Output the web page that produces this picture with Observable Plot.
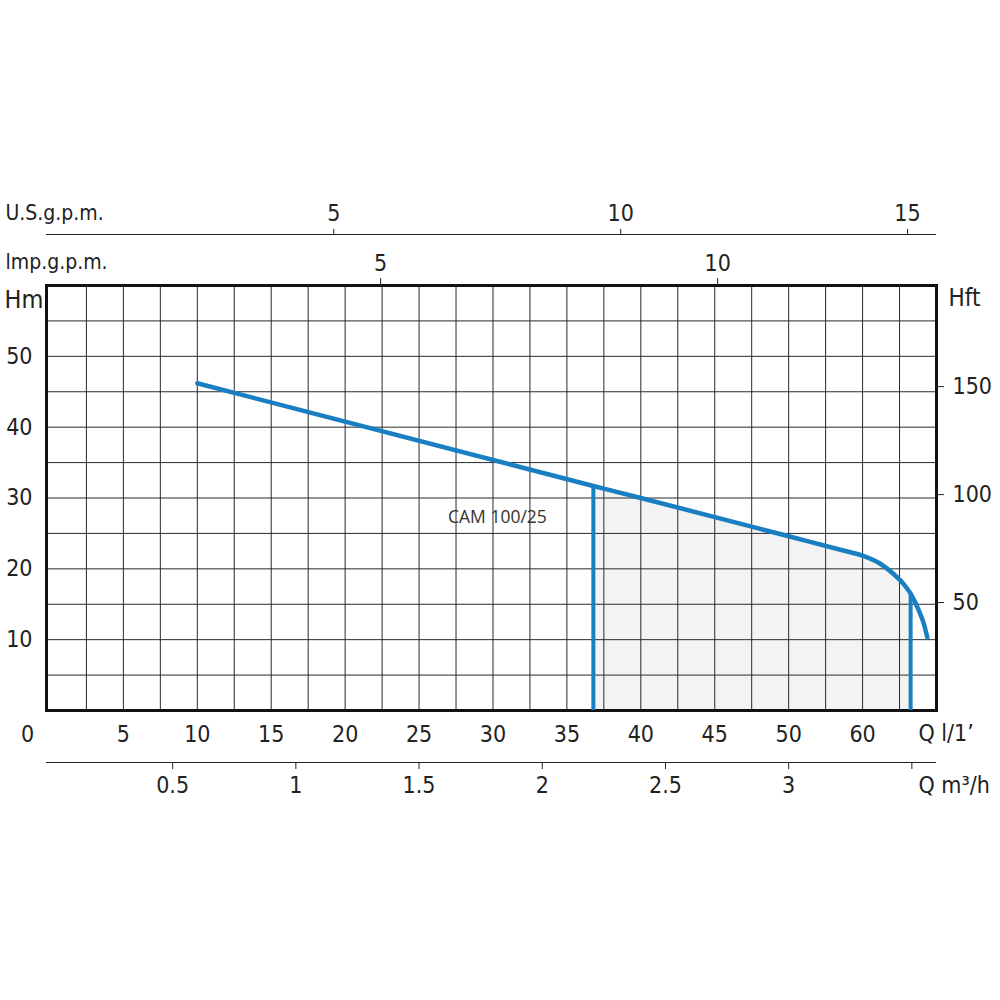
<!DOCTYPE html>
<html>
<head>
<meta charset="utf-8">
<script src="https://cdn.jsdelivr.net/npm/d3@7"></script>
<script src="https://cdn.jsdelivr.net/npm/@observablehq/plot@0.6"></script>
<style>
  body { margin: 0; background: #fff; }
  #chart { width: 1000px; height: 1000px; }
</style>
</head>
<body>
<div id="chart"></div>
<script>
// ---- Data ----
const curveName = "CAM 100/25";
// Pump curve: flow in l/min, head in m
const flowLmin = [10, 36.79, 40, 50, 53.5, 55, 56.22, 57.1, 57.78, 58.25, 58.81, 59.15, 59.38];
const headM    = [46.2, 31.7, 30.0, 24.6, 22.7, 21.85, 20.68, 19.27, 17.85, 16.5, 14.1, 12.2, 10.3];
// Working range limits (l/min) and head at those limits (m)
const dutyFlow = [36.79, 58.25];
const dutyHead = [31.7, 16.5];
// Label anchor (l/min, m)
const labelFlow = [30.3];
const labelHead = [27.2];

// Axis ticks
const lminTicks  = [5, 10, 15, 20, 25, 30, 35, 40, 45, 50, 55];
const lminLabels = ["5", "10", "15", "20", "25", "30", "35", "40", "45", "50", "60"];
const hmTicks    = [10, 20, 30, 40, 50];
const hftTicks   = [50, 100, 150];
const m3hTicks   = [0.5, 1, 1.5, 2, 2.5, 3, 3.5];
const m3hLabels  = ["0.5", "1", "1.5", "2", "2.5", "3", ""];
const usgpmLabels   = ["5", "10", "15"];
const usgpmAtLmin   = [19.23, 38.64, 58.04];
const impgpmLabels  = ["5", "10"];
const impgpmAtLmin  = [22.4, 45.2];
const gridFlow = d3.range(2.5, 60, 2.5);
const gridHead = d3.range(5, 60, 5);

// ---- Build tables ----
const curve = flowLmin.map((q, i) => ({q, h: headM[i]}));
const duty = dutyFlow.map((q, i) => ({q, h: dutyHead[i]}));
const shade = curve.filter(d => d.q >= dutyFlow[0] && d.q <= dutyFlow[1]);
const m3hPos = m3hTicks.map(v => v * 1000 / 60);
const hftPos = hftTicks.map(v => v * 0.3048);

const blue = "#1a7fc2";
const ink = "#222";
const font = "'Liberation Sans Narrow','DejaVu Sans Condensed',sans-serif";

const chart = Plot.plot({
  width: 1000,
  height: 1000,
  marginLeft: 46,
  marginRight: 64,
  marginTop: 285,
  marginBottom: 290,
  x: {domain: [-0.2, 60]},
  y: {domain: [0, 60]},
  style: {fontFamily: font, fontSize: "23px", color: ink, background: "#fff"},
  marks: [
    Plot.areaY(shade, {x: "q", y: "h", fill: "#f3f3f3", curve: "monotone-x"}),
    Plot.ruleX(gridFlow, {stroke: "#2a2a2a", strokeWidth: 1}),
    Plot.ruleY(gridHead, {stroke: "#2a2a2a", strokeWidth: 1}),
    Plot.frame({stroke: "#111", strokeWidth: 3}),
    Plot.ruleX(duty, {x: "q", y1: 0, y2: "h", stroke: blue, strokeWidth: 4}),
    Plot.line(curve, {x: "q", y: "h", stroke: blue, strokeWidth: 4.5, curve: "monotone-x"}),
    Plot.text([curveName], {x: labelFlow, y: labelHead, text: d => d, fontFamily: "'Open Sans',sans-serif", fontSize: 17.5, fill: "#333"}),

    // bottom l/min axis
    Plot.axisX(lminTicks, {anchor: "bottom", tickSize: 0, tickPadding: 15, label: null,
      tickFormat: d => lminLabels[lminTicks.indexOf(d)]}),
    Plot.axisX([0], {anchor: "bottom", tickSize: 0, tickPadding: 15, dx: -22, label: null, tickFormat: d => "0"}),
    Plot.text(["Q l/1’"], {frameAnchor: "bottom-right", text: d => d, textAnchor: "start", lineAnchor: "bottom", dx: -18, dy: 30}),

    // m3/h axis
    Plot.ruleY([0], {dy: 52, stroke: ink, strokeWidth: 1.2}),
    Plot.axisX(m3hPos, {anchor: "bottom", dy: 52, tickSize: 7, tickPadding: 7, label: null,
      tickFormat: d => m3hLabels[m3hPos.indexOf(d)]}),
    Plot.text(["Q m³/h"], {frameAnchor: "bottom-right", text: d => d, textAnchor: "start", lineAnchor: "bottom", dx: -18, dy: 82}),

    // Imp gpm axis
    Plot.axisX(impgpmAtLmin, {anchor: "top", tickSize: 8, tickPadding: 7, label: null,
      tickFormat: d => impgpmLabels[impgpmAtLmin.indexOf(d)]}),
    Plot.text(["lmp.g.p.m."], {frameAnchor: "top-left", text: d => d, textAnchor: "start", lineAnchor: "bottom", dx: -41, dy: -17, fontSize: 21}),

    // US gpm axis
    Plot.ruleY([60], {dy: -51, stroke: ink, strokeWidth: 1.2}),
    Plot.axisX(usgpmAtLmin, {anchor: "top", dy: -51, tickSize: 6, tickPadding: 8, label: null,
      tickFormat: d => usgpmLabels[usgpmAtLmin.indexOf(d)]}),
    Plot.text(["U.S.g.p.m."], {frameAnchor: "top-left", text: d => d, textAnchor: "start", lineAnchor: "bottom", dx: -41, dy: -66, fontSize: 21}),

    // left Hm axis
    Plot.axisY(hmTicks, {anchor: "left", tickSize: 0, tickPadding: 14, label: null}),
    Plot.text(["Hm"], {frameAnchor: "top-left", text: d => d, textAnchor: "start", lineAnchor: "bottom", dx: -42, dy: 22, fontSize: 25, letterSpacing: -1.5}),

    // right Hft axis
    Plot.axisY(hftPos, {anchor: "right", tickSize: 7, tickPadding: 9, label: null,
      tickFormat: d => hftTicks[hftPos.indexOf(d)]}),
    Plot.text(["Hft"], {frameAnchor: "top-right", text: d => d, textAnchor: "start", lineAnchor: "bottom", dx: 12, dy: 20, fontSize: 24, letterSpacing: 1.5})
  ]
});
document.getElementById("chart").append(chart);
</script>
</body>
</html>
